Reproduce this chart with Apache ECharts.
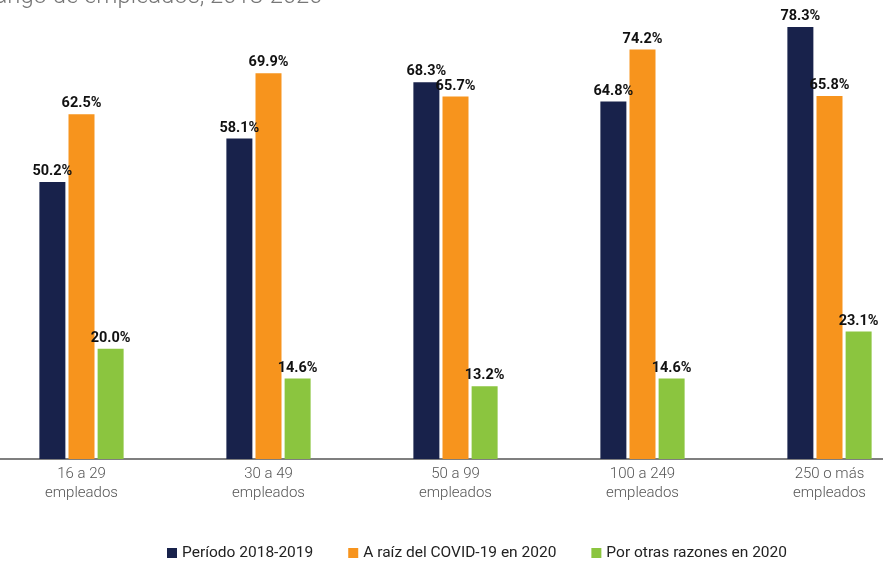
<!DOCTYPE html>
<html>
<head>
<meta charset="utf-8">
<script src="https://cdn.jsdelivr.net/npm/echarts@6/dist/echarts.min.js"></script>
<style>
  html, body { margin: 0; padding: 0; background: #fff; overflow: hidden; }
  #chart { position: absolute; left: -12px; top: 0; width: 935px; height: 563px; }
</style>
</head>
<body>
<div id="chart"></div>
<script>
// rangos de empleados
const categorias = ['16 a 29\nempleados', '30 a 49\nempleados', '50 a 99\nempleados', '100 a 249\nempleados', '250 o más\nempleados']
const periodo2018 = [50.2, 58.1, 68.3, 64.8, 78.3]
const covid2020 = [62.5, 69.9, 65.7, 74.2, 65.8]
const otras2020 = [20.0, 14.6, 13.2, 14.6, 23.1]
const nombres = ['Período 2018-2019', 'A raíz del COVID-19 en 2020', 'Por otras razones en 2020']
const colores = ['#18224b', '#f7941d', '#8bc53f']

const chart = echarts.init(document.getElementById('chart'))

// etiqueta de valor encima de cada barra
const etiqueta = {
  show: true,
  position: 'top',
  distance: 3,
  formatter: p => p.value.toFixed(1) + '%',
  color: '#111',
  fontFamily: 'Roboto',
  fontWeight: 'bold',
  fontSize: 14.5
}

const serie = (nombre, datos, color) => ({
  name: nombre,
  type: 'bar',
  barWidth: 26,
  barGap: '12%',
  data: datos,
  itemStyle: { color: color },
  label: etiqueta
})

chart.setOption({
  animation: false,
  textStyle: { fontFamily: 'Roboto' },
  graphic: [{
    type: 'text',
    left: -1,
    top: -15,
    style: {
      text: 'rango de empleados, 2018-2020',
      fill: '#777',
      fontFamily: 'Roboto',
      fontWeight: 300,
      fontSize: 23.8
    }
  }],
  grid: { left: 0, right: 0, top: 17.6, bottom: 104, containLabel: false },
  legend: {
    bottom: -3,
    left: 174,
    itemWidth: 10,
    itemHeight: 10,
    itemGap: 35,
    icon: 'rect',
    textStyle: { color: '#222', fontSize: 15.5, fontFamily: 'Roboto' },
    data: nombres
  },
  xAxis: {
    type: 'category',
    data: categorias,
    axisLine: { lineStyle: { color: '#555', width: 1.5 } },
    axisTick: { show: false },
    axisLabel: { color: '#555', fontSize: 15, fontWeight: 300, lineHeight: 19, margin: 6 }
  },
  yAxis: {
    type: 'value',
    min: 0,
    max: 80,
    show: false,
    splitLine: { show: false }
  },
  series: [
    serie(nombres[0], periodo2018, colores[0]),
    serie(nombres[1], covid2020, colores[1]),
    serie(nombres[2], otras2020, colores[2])
  ]
})
</script>
</body>
</html>
